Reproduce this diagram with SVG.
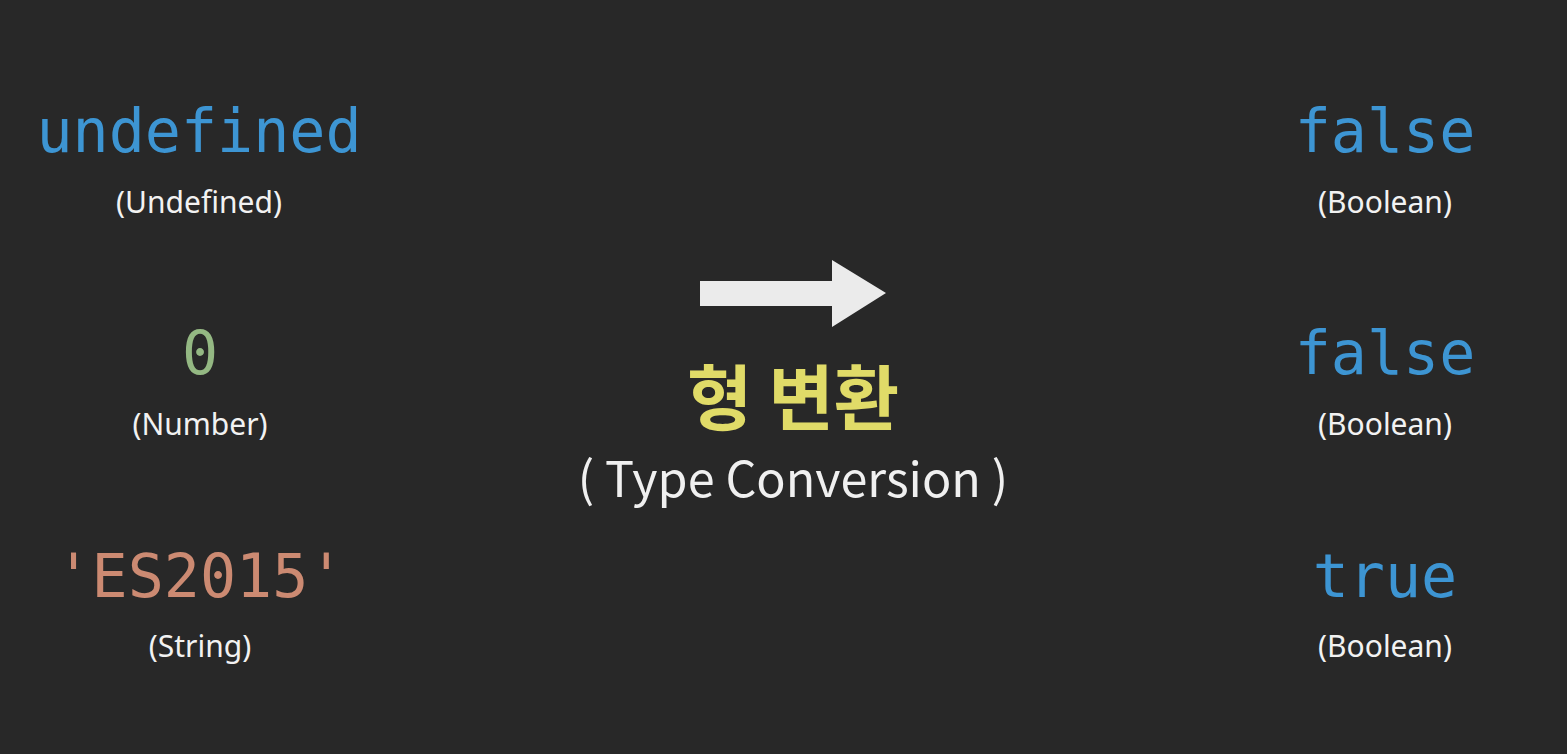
<svg xmlns="http://www.w3.org/2000/svg" width="1567" height="754" viewBox="0 0 1567 754">
<style>
.code{font-family:"DejaVu Sans Mono","Liberation Mono",monospace;font-size:60px;text-anchor:middle}
.blue{fill:#3d95d3}
.green{fill:#94b883}
.orange{fill:#cc8a72}
.lbl{font-family:"Noto Sans","Liberation Sans",sans-serif;font-size:30px;fill:#f2f2f2;text-anchor:middle}
.ko{font-family:"Noto Sans CJK KR",sans-serif;font-weight:700;font-size:71px;fill:#e0db68;text-anchor:middle}
.en{font-family:"Noto Sans CJK KR","Noto Sans",sans-serif;font-size:48.5px;fill:#f0f0f0;text-anchor:middle}
</style>
<rect width="1567" height="754" fill="#282828"/>
<g id="undefined"><text class="code blue" x="199" y="152">undefined</text><text class="lbl" x="199" y="213">(Undefined)</text></g>
<g id="zero"><text class="code green" x="200" y="374">0</text><text class="lbl" x="200" y="435">(Number)</text></g>
<g id="es2015"><text class="code orange" x="200" y="597">'ES2015'</text><text class="lbl" x="200" y="657">(String)</text></g>
<g id="false1"><text class="code blue" x="1385" y="152">false</text><text class="lbl" x="1385" y="213">(Boolean)</text></g>
<g id="false2"><text class="code blue" x="1385" y="374">false</text><text class="lbl" x="1385" y="435">(Boolean)</text></g>
<g id="true"><text class="code blue" x="1385" y="597">true</text><text class="lbl" x="1385" y="657">(Boolean)</text></g>
<g id="conversion">
<polygon points="700,281 832,281 832,260 886,293 832,327 832,306 700,306" fill="#ebebeb"/>
<text class="ko" x="793" y="424">형 변환</text>
<text class="en" x="793" y="497">( Type Conversion )</text>
</g>
</svg>
